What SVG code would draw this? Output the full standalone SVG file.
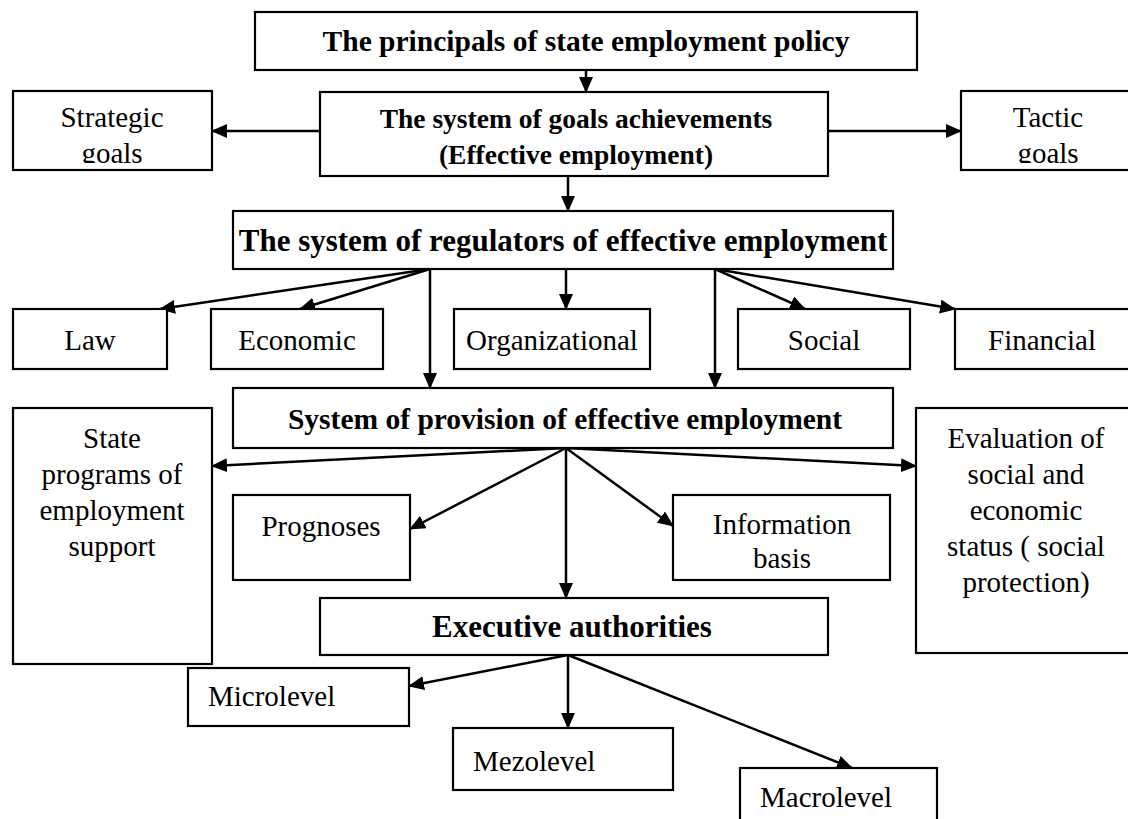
<svg xmlns="http://www.w3.org/2000/svg" width="1128" height="819" viewBox="0 0 1128 819">
  <style>
    .box { fill: #fff; stroke: #000; stroke-width: 2.2; }
    .t { font-family: "Liberation Serif", "Times New Roman", serif; font-size: 29px; fill: #000; }
    .c { text-anchor: middle; }
    .b { font-weight: bold; }
    .g { font-size: 27.5px; }
    .h1 { font-size: 29.5px; }
    .h2 { font-size: 31px; }
    .conn line { stroke: #000; stroke-width: 2.5; marker-end: url(#arrow); }
  </style>
  <defs>
    <marker id="arrow" markerUnits="userSpaceOnUse" markerWidth="16" markerHeight="14" refX="15" refY="7" orient="auto">
      <path d="M0,0 L16,7 L0,14 Z" fill="#000"/>
    </marker>
    <clipPath id="clipStrategic"><rect x="13" y="91" width="199" height="72"/></clipPath>
    <clipPath id="clipTactic"><rect x="961" y="91" width="180" height="72"/></clipPath>
  </defs>
  <rect width="1128" height="819" fill="#fff"/>

  <!-- connectors -->
  <g id="connectors" class="conn">
    <line x1="586" y1="70" x2="586" y2="92"/>
    <line x1="320" y1="131" x2="212" y2="131"/>
    <line x1="828" y1="131" x2="961" y2="131"/>
    <line x1="568" y1="176" x2="568" y2="211"/>
    <line x1="430" y1="269" x2="160" y2="309"/>
    <line x1="430" y1="269" x2="300" y2="309"/>
    <line x1="430" y1="269" x2="430" y2="388"/>
    <line x1="566" y1="269" x2="566" y2="309"/>
    <line x1="715" y1="269" x2="715" y2="388"/>
    <line x1="715" y1="269" x2="805" y2="309"/>
    <line x1="715" y1="269" x2="955" y2="309"/>
    <line x1="566" y1="448" x2="212" y2="466"/>
    <line x1="566" y1="448" x2="410" y2="529"/>
    <line x1="566" y1="448" x2="566" y2="598"/>
    <line x1="566" y1="448" x2="673" y2="526"/>
    <line x1="566" y1="448" x2="916" y2="466"/>
    <line x1="568" y1="655" x2="409" y2="686"/>
    <line x1="568" y1="655" x2="568" y2="728"/>
    <line x1="568" y1="655" x2="852" y2="768"/>
  </g>

  <g id="principals">
    <rect class="box" x="255" y="12" width="662" height="58"/>
    <text class="t c b h1" x="586" y="51">The principals of state employment policy</text>
  </g>
  <g id="goals">
    <rect class="box" x="320" y="92" width="508" height="84"/>
    <text class="t c b g" x="576" y="128">The system of goals achievements</text>
    <text class="t c b g" x="576" y="164">(Effective employment)</text>
  </g>
  <g id="strategic">
    <rect class="box" x="13" y="91" width="199" height="79"/>
    <g clip-path="url(#clipStrategic)">
      <text class="t c" x="112" y="127">Strategic</text>
      <text class="t c" x="112" y="163">goals</text>
    </g>
  </g>
  <g id="tactic">
    <rect class="box" x="961" y="91" width="180" height="79"/>
    <g clip-path="url(#clipTactic)">
      <text class="t c" x="1048" y="127">Tactic</text>
      <text class="t c" x="1048" y="163">goals</text>
    </g>
  </g>
  <g id="regulators">
    <rect class="box" x="233" y="211" width="660" height="58"/>
    <text class="t c b h2" x="563" y="251">The system of regulators of effective employment</text>
  </g>
  <g id="law">
    <rect class="box" x="13" y="309" width="154" height="60"/>
    <text class="t c" x="90" y="350">Law</text>
  </g>
  <g id="economic">
    <rect class="box" x="211" y="309" width="172" height="60"/>
    <text class="t c" x="297" y="350">Economic</text>
  </g>
  <g id="organizational">
    <rect class="box" x="454" y="309" width="196" height="60"/>
    <text class="t c" x="552" y="350">Organizational</text>
  </g>
  <g id="social">
    <rect class="box" x="738" y="309" width="172" height="60"/>
    <text class="t c" x="824" y="350">Social</text>
  </g>
  <g id="financial">
    <rect class="box" x="955" y="309" width="185" height="60"/>
    <text class="t c" x="1042" y="350">Financial</text>
  </g>
  <g id="provision">
    <rect class="box" x="233" y="388" width="660" height="60"/>
    <text class="t c b h1" x="565" y="429">System of provision of effective employment</text>
  </g>
  <g id="state-programs">
    <rect class="box" x="13" y="408" width="199" height="256"/>
    <text class="t c" x="112" y="448">State</text>
    <text class="t c" x="112" y="484">programs of</text>
    <text class="t c" x="112" y="520">employment</text>
    <text class="t c" x="112" y="556">support</text>
  </g>
  <g id="prognoses">
    <rect class="box" x="233" y="495" width="177" height="85"/>
    <text class="t c" x="321" y="536">Prognoses</text>
  </g>
  <g id="information">
    <rect class="box" x="673" y="495" width="217" height="85"/>
    <text class="t c" x="782" y="534">Information</text>
    <text class="t c" x="782" y="568">basis</text>
  </g>
  <g id="evaluation">
    <rect class="box" x="916" y="408" width="225" height="245"/>
    <text class="t c" x="1026" y="448">Evaluation of</text>
    <text class="t c" x="1026" y="484">social and</text>
    <text class="t c" x="1026" y="520">economic</text>
    <text class="t c" x="1026" y="556">status ( social</text>
    <text class="t c" x="1026" y="592">protection)</text>
  </g>
  <g id="executive">
    <rect class="box" x="320" y="598" width="508" height="57"/>
    <text class="t c b h2" x="572" y="637">Executive authorities</text>
  </g>
  <g id="microlevel">
    <rect class="box" x="188" y="668" width="221" height="58"/>
    <text class="t" x="208" y="706">Microlevel</text>
  </g>
  <g id="mezolevel">
    <rect class="box" x="453" y="728" width="220" height="62"/>
    <text class="t" x="473" y="771">Mezolevel</text>
  </g>
  <g id="macrolevel">
    <rect class="box" x="740" y="768" width="197" height="70"/>
    <text class="t" x="760" y="807">Macrolevel</text>
  </g>
</svg>
